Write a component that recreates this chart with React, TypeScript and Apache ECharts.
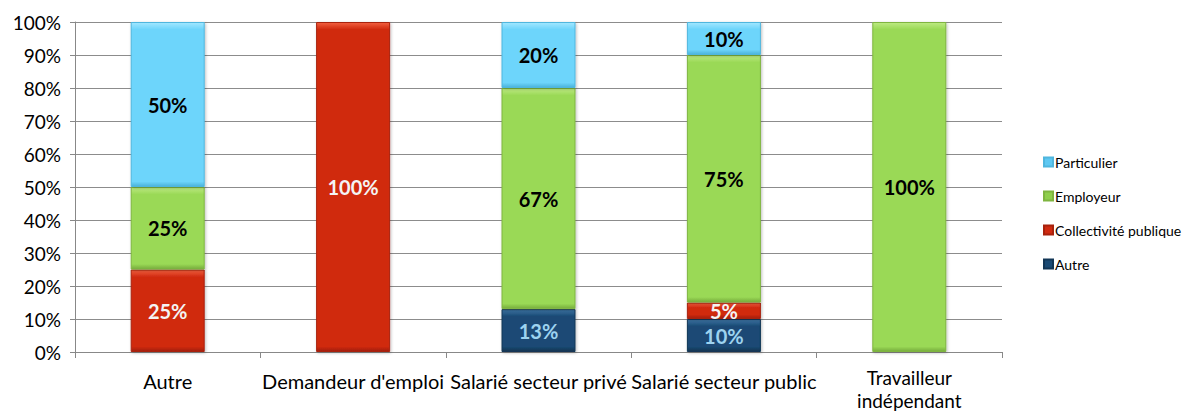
import React, { useEffect, useRef } from "react";
import * as echarts from "echarts";

const categories = ["Autre", "Demandeur d'emploi", "Salarié secteur privé", "Salarié secteur public", "Travailleur\nindépendant"];
const autre = [null, null, 13, 10, null];
const collectivite = [25, 100, null, 5, null];
const employeur = [25, null, 67, 75, 100];
const particulier = [50, null, 20, 10, null];
const yTicks = [0, 10, 20, 30, 40, 50, 60, 70, 80, 90, 100];

const FONT = "Lato, 'Open Sans', sans-serif";
const PX_PER_UNIT = 3.3;

function bevel(v: number, top: string, mid: string, bottom: string) {
  const h = Math.max(v * PX_PER_UNIT, 1);
  const t = Math.min(7 / h, 0.3);
  const b = Math.min(5 / h, 0.25);
  return new echarts.graphic.LinearGradient(0, 0, 0, 1, [
    { offset: 0, color: top },
    { offset: t, color: mid },
    { offset: 1 - b, color: mid },
    { offset: 1, color: bottom },
  ]);
}

export default function App() {
  const ref = useRef<HTMLDivElement>(null);
  useEffect(() => {
    document.body.style.margin = "0";
    const chart = echarts.init(ref.current!, null, { renderer: "svg" });
    const mk = (name: string, data: (number | null)[], top: string, mid: string, bottom: string, edge: string, labelColor: string) => ({
      name,
      type: "bar",
      stack: "s",
      data: data.map((v) => (v == null ? null : { value: v, itemStyle: { color: bevel(v, top, mid, bottom) } })),
      barWidth: 74,
      itemStyle: { color: mid, borderColor: edge, borderWidth: 1, shadowColor: "rgba(0,0,0,0.25)", shadowBlur: 3, shadowOffsetX: 1, shadowOffsetY: 1 },
      label: {
        show: true,
        position: "inside",
        formatter: (p: any) => (p.value == null ? "" : p.value + "%"),
        color: labelColor,
        fontFamily: FONT,
        fontWeight: "bold",
        fontSize: 20,
      },
    });
    chart.setOption({
      animation: false,
      grid: { left: 75, right: 184, top: 22, bottom: 62, outerBoundsMode: "none", containLabel: false },
      legend: {
        orient: "vertical",
        left: 1038,
        top: 150,
        itemGap: 20,
        itemWidth: 9,
        itemHeight: 9,
        icon: "rect",
        textStyle: { fontFamily: FONT, fontSize: 14, color: "#000", padding: [0, 0, 0, -3] },
        data: [
          { name: "Particulier", itemStyle: { color: "#5ec8f2" } },
          { name: "Employeur", itemStyle: { color: "#8fcf4c" } },
          { name: "Collectivité publique", itemStyle: { color: "#d02a10" } },
          { name: "Autre", itemStyle: { color: "#1a4a74" } },
        ],
      },
      xAxis: {
        type: "category",
        data: categories.map((c) =>
          c.includes("\n") ? { value: c, textStyle: { fontSize: 19, lineHeight: 23, padding: [-3, 0, 0, 0] } } : c
        ),
        axisLine: { lineStyle: { color: "#888", width: 1 } },
        axisTick: { show: true, length: 6, lineStyle: { color: "#888" } },
        axisLabel: { color: "#000", fontFamily: FONT, fontSize: 20, margin: 17, lineHeight: 24, interval: 0 },
      },
      yAxis: {
        type: "value",
        min: 0,
        max: 100,
        interval: 10,
        axisLine: { show: true, lineStyle: { color: "#888" } },
        axisTick: { show: true, length: 5, lineStyle: { color: "#888" } },
        splitLine: { lineStyle: { color: "#8c8c8c", width: 1 } },
        axisLabel: { color: "#000", fontFamily: FONT, fontSize: 19, margin: 14, formatter: (v: number) => (yTicks.includes(v) ? v + "%" : "") },
      },
      series: [
        mk("Autre", autre, "#3d73a3", "#1a4a74", "#10344f", "#123656", "#9dd3f0"),
        mk("Collectivité publique", collectivite, "#f2603e", "#d02a10", "#a01d08", "#a8220c", "#f4f4f4"),
        mk("Employeur", employeur, "#bdea82", "#9ad956", "#76ac3c", "#7fb540", "#000000"),
        mk("Particulier", particulier, "#a3e7ff", "#6dd5fb", "#4ab2da", "#4fb6de", "#000000"),
      ],
    });
    return () => chart.dispose();
  }, []);
  return <div ref={ref} style={{ width: 1186, height: 414 }} />;
}
